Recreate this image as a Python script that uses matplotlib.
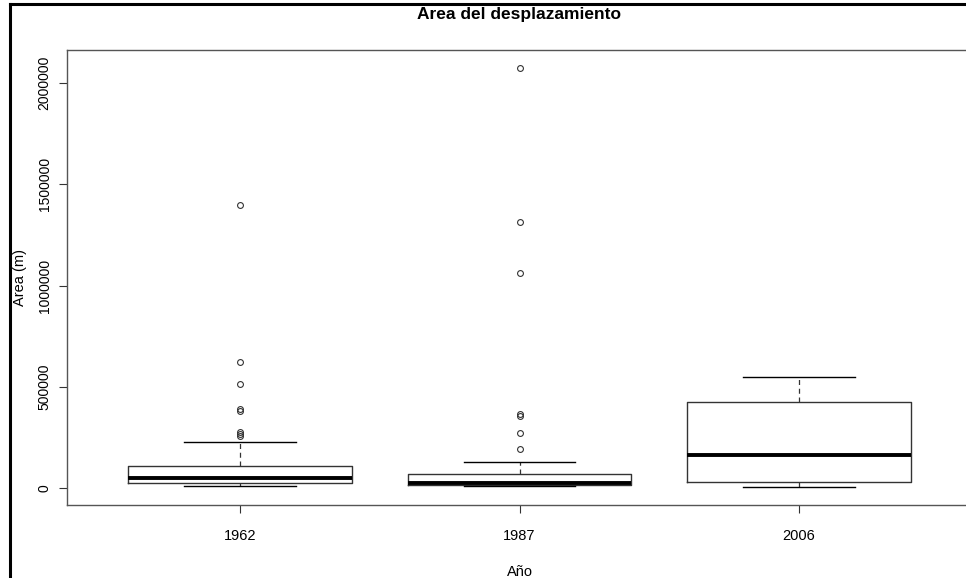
import matplotlib
matplotlib.use("Agg")
import matplotlib.pyplot as plt
from matplotlib.lines import Line2D

# Año y resumen de cada caja (en m)
years = ["1962", "1987", "2006"]
whisker_low = [10000, 8000, 5000]
q1 = [23000, 15000, 28000]
medians = [51000, 26000, 163000]
q3 = [108000, 69000, 425000]
whisker_high = [226000, 127000, 548000]
outliers = [
    [1396000, 622000, 514000, 390000, 380000, 278000, 265000, 255000],
    [2076000, 1314000, 1064000, 365000, 355000, 273000, 193000],
    [],
]

yticks = [0, 500000, 1000000, 1500000, 2000000]

narrow = ["Liberation Sans Narrow", "Liberation Sans", "DejaVu Sans"]
plt.rcParams["font.family"] = narrow

stats = []
for i in range(len(years)):
    stats.append({
        "label": years[i],
        "whislo": whisker_low[i], "q1": q1[i], "med": medians[i],
        "q3": q3[i], "whishi": whisker_high[i], "fliers": outliers[i],
    })

fig = plt.figure(figsize=(9.66, 5.78), dpi=100)
ax = fig.add_axes([67 / 966, 73 / 578, 905 / 966, 455 / 578])

ax.bxp(stats, positions=[1, 2, 3], widths=0.8, showfliers=True,
       boxprops=dict(color="#333333", linewidth=1.0),
       medianprops=dict(color="black", linewidth=2.8),
       whiskerprops=dict(color="#333333", linewidth=0.9, linestyle=(0, (4, 3))),
       capprops=dict(color="black", linewidth=1.0),
       capwidths=0.4,
       flierprops=dict(marker="o", markersize=4.2, markerfacecolor="none",
                       markeredgecolor="#333333", markeredgewidth=0.8))

ax.set_xlim(0.38, 3.62)
ax.set_ylim(-84000, 2164000)
ax.set_yticks(yticks)
ax.set_yticklabels([str(v) for v in yticks], rotation=90, va="center", fontsize=10)
ax.set_xticks([1, 2, 3])
ax.set_xticklabels(years, fontsize=10.5)
ax.tick_params(axis="both", length=6, width=0.8, color="#333333")
ax.tick_params(axis="x", pad=11)
ax.tick_params(axis="y", pad=5)

for s in ax.spines.values():
    s.set_color("#555555")
    s.set_linewidth(1.0)

ax.set_ylabel("Area (m)", fontsize=10.5, labelpad=8)
ax.set_xlabel("Año", fontsize=10.5, labelpad=16)

fig.text(519 / 966, 1 - 15 / 578, "Area del desplazamiento", ha="center", va="center",
         fontsize=12.5, fontweight="bold")

# marco de la captura
fig.add_artist(Line2D([10 / 966, 10 / 966], [0, 1 - 4 / 578], color="black", linewidth=2.2,
                      transform=fig.transFigure))
fig.add_artist(Line2D([10 / 966, 1], [1 - 4 / 578, 1 - 4 / 578], color="black", linewidth=2.2,
                      transform=fig.transFigure))

plt.savefig("out.png", dpi=100)
